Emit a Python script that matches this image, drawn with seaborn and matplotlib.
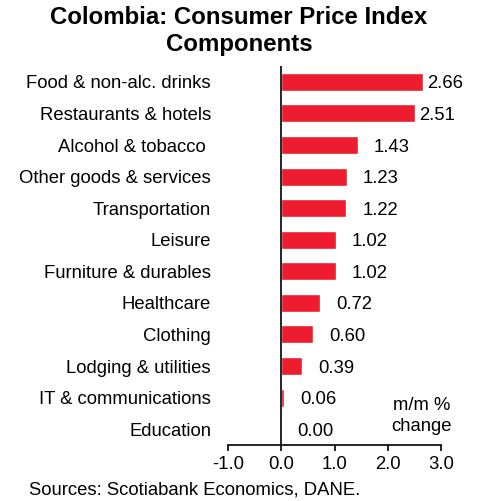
import matplotlib
matplotlib.use("Agg")
import matplotlib.pyplot as plt
import seaborn as sns
import pandas as pd

categories = ["Food & non-alc. drinks", "Restaurants & hotels", "Alcohol & tobacco ",
              "Other goods & services", "Transportation", "Leisure",
              "Furniture & durables", "Healthcare", "Clothing",
              "Lodging & utilities", "IT & communications", "Education"]
values = [2.66, 2.51, 1.43, 1.23, 1.22, 1.02, 1.02, 0.72, 0.60, 0.39, 0.06, 0.00]
xticks = [-1.0, 0.0, 1.0, 2.0, 3.0]

sns.set_theme(style="white")
plt.rcParams['font.family'] = ['Liberation Sans', 'DejaVu Sans']
plt.rcParams['axes.unicode_minus'] = False
plt.rcParams['text.color'] = 'black'
plt.rcParams['xtick.color'] = 'black'
plt.rcParams['ytick.color'] = 'black'
plt.rcParams['xtick.labelcolor'] = 'black'
plt.rcParams['ytick.labelcolor'] = 'black'

df = pd.DataFrame({"cat": categories, "val": values})
FS = 13.3

fig = plt.figure(figsize=(4.78, 5.01), dpi=100)
ax = fig.add_axes([0.4764, 0.1118, 0.4471, 0.7562])
sns.barplot(data=df, y="cat", x="val", orient="h", color="#ED1C2E",
            saturation=1, width=0.57, ax=ax)

ax.set_xlim(-1.0, 3.0)
ax.set_ylim(len(categories) - 0.5, -0.5)
ax.set_xticks(xticks)
ax.set_xticklabels([f"{t:.1f}" for t in xticks], fontsize=FS, color="black")
ax.set_xlabel("")
ax.set_ylabel("")
ax.tick_params(axis="y", left=False, length=0, pad=12, labelsize=FS, labelcolor="black")
ax.tick_params(axis="x", bottom=True, direction="out", length=4, width=1.2,
               color="black", pad=4)
for s in ["top", "right", "left"]:
    ax.spines[s].set_visible(False)
ax.spines["bottom"].set_color("black")
ax.spines["bottom"].set_linewidth(1.2)
ax.axvline(0, color="black", lw=1.2, zorder=3)

for i, v in enumerate(values):
    if v > 2.0:
        ax.text(v + 0.08, i, f"{v:.2f}", ha="left", va="center_baseline",
                fontsize=FS, color="black")
    else:
        ax.text(v + 0.64, i, f"{v:.2f}", ha="center", va="center_baseline",
                fontsize=FS, color="black")

ax.text(2.63, 10.2, "m/m %", ha="center", va="center_baseline", fontsize=FS, color="black")
ax.text(2.63, 10.84, "change", ha="center", va="center_baseline", fontsize=FS, color="black")

fig.text(0.5, 1 - 17 / 501, "Colombia: Consumer Price Index", ha="center",
         va="center", fontsize=17.3, fontweight="bold", color="black")
fig.text(0.5, 1 - 45 / 501, "Components", ha="center",
         va="center", fontsize=17.3, fontweight="bold", color="black")
fig.text(29 / 478, 1 - 490 / 501, "Sources: Scotiabank Economics, DANE.", ha="left",
         va="center", fontsize=FS, color="black")

fig.savefig("out.png", dpi=100)
